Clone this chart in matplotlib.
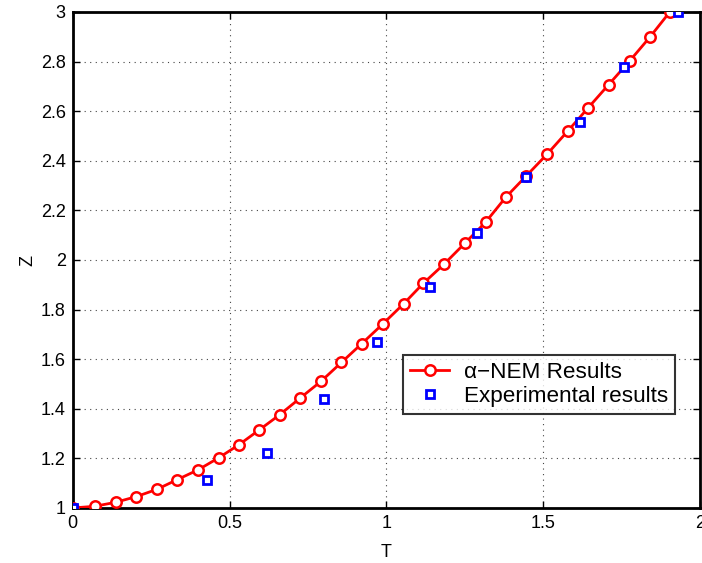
import matplotlib
matplotlib.use("Agg")
import matplotlib.pyplot as plt

plt.rcParams['font.family'] = ['Liberation Sans', 'DejaVu Sans']

# alpha-NEM model results
nem_t = [0.0, 0.071, 0.137, 0.203, 0.268, 0.331, 0.400, 0.465, 0.530, 0.595,
         0.660, 0.726, 0.792, 0.857, 0.922, 0.988, 1.055, 1.118, 1.184, 1.250,
         1.317, 1.381, 1.447, 1.513, 1.578, 1.644, 1.709, 1.777, 1.840, 1.904]
nem_z = [1.000, 1.007, 1.023, 1.046, 1.075, 1.113, 1.154, 1.202, 1.255, 1.315,
         1.376, 1.444, 1.511, 1.587, 1.663, 1.741, 1.823, 1.906, 1.983, 2.067,
         2.153, 2.253, 2.340, 2.427, 2.519, 2.614, 2.707, 2.804, 2.898, 3.000]

# Experimental measurements
exp_t = [0.0, 0.429, 0.620, 0.800, 0.969, 1.139, 1.289, 1.447, 1.617, 1.758, 1.931]
exp_z = [1.000, 1.113, 1.223, 1.440, 1.669, 1.890, 2.110, 2.333, 2.558, 2.777, 2.998]

x_ticks = [0, 0.5, 1, 1.5, 2]
x_tick_labels = ['0', '0.5', '1', '1.5', '2']
y_ticks = [1, 1.2, 1.4, 1.6, 1.8, 2, 2.2, 2.4, 2.6, 2.8, 3]
y_tick_labels = ['1', '1.2', '1.4', '1.6', '1.8', '2', '2.2', '2.4', '2.6', '2.8', '3']

fig = plt.figure(figsize=(7.02, 5.63), dpi=100)
ax = fig.add_axes([0.1036, 0.0977, 0.8934, 0.881])

ax.plot(nem_t, nem_z, '-o', color='red', lw=2.0, markersize=7.5,
        markerfacecolor='white', markeredgecolor='red', markeredgewidth=1.8,
        label='\u03b1\u2212NEM Results', zorder=3)
ax.plot(exp_t, exp_z, 's', linestyle='none', markersize=5.5,
        markerfacecolor='white', markeredgecolor='blue', markeredgewidth=2.0,
        label='Experimental results', zorder=4)

ax.set_xlim(0, 2)
ax.set_ylim(1, 3)
ax.set_xticks(x_ticks)
ax.set_xticklabels(x_tick_labels)
ax.set_yticks(y_ticks)
ax.set_yticklabels(y_tick_labels)
ax.tick_params(direction='in', top=True, right=True, length=5, width=1.0,
               labelsize=13, pad=5)
ax.grid(True, linestyle=(0, (1, 4)), color='#444444', linewidth=0.8)
for sp in ax.spines.values():
    sp.set_linewidth(2.0)
    sp.set_clip_on(False)

ax.set_xlabel('T', fontsize=13)
ax.xaxis.set_label_coords(0.5, -0.072)
ax.set_ylabel('Z', fontsize=13)
ax.yaxis.set_label_coords(-0.058, 0.5)

leg = ax.legend(loc='lower left', bbox_to_anchor=(0.527, 0.19), fontsize=16.2,
                frameon=True, fancybox=False, edgecolor='black', borderpad=0.3,
                labelspacing=0.15, handlelength=1.75, handletextpad=0.65,
                borderaxespad=0)
leg.get_frame().set_linewidth(1.5)

fig.savefig('out.png', dpi=100)
